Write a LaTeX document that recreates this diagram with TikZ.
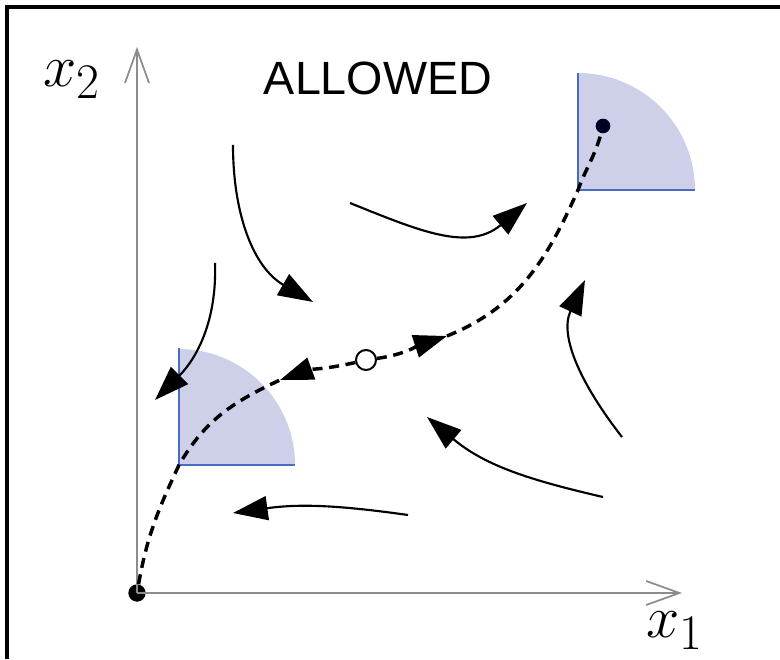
\documentclass[tikz,border=0pt]{standalone}
\usepackage{fontspec}
\newfontfamily\labelsans{Liberation Sans}
\usepackage{tikz}
\usetikzlibrary{arrows.meta}
\definecolor{regionfill}{HTML}{CDD0E8}
\definecolor{regionedge}{HTML}{4A6BC2}
\definecolor{axisgray}{HTML}{8C8C8C}
\tikzset{
  ph/axis/.style={axisgray, line width=1.5pt,
    -{Straight Barb[length=25pt, width=18pt, line width=1.3pt]}},
  ph/flow/.style={black, line width=1.6pt, -{Triangle[length=26pt, width=18pt]}},
  ph/traj/.style={black, line width=2.6pt, dash pattern=on 7.5pt off 5pt},
  ph/trajarr/.style={ph/traj, -{Triangle[length=25pt, width=17pt]}},
  ph/region/.style={fill=regionfill},
  ph/edge/.style={regionedge, line width=1.5pt},
  ph/math/.style={inner sep=0pt, font=\Huge, scale=1.8},
  ph/dot/.style={circle, fill=black, inner sep=0pt, minimum size=#1}
}

\begin{document}
\begin{tikzpicture}[x=0.75pt, y=0.75pt]
  \useasboundingbox (0,0) rectangle (780,659);
  % frame
  \draw[line width=2.4pt] (7,0) -- (7,652) -- (780,652);

  % target regions
  \coordinate (llc) at (179,194);
  \coordinate (urc) at (578,469);
  \fill[ph/region] (llc) -- ++(116,0) arc[start angle=0, end angle=90, radius=116] -- cycle;
  \fill[ph/region] (urc) -- ++(117,0) arc[start angle=0, end angle=90, radius=117] -- cycle;
  \draw[ph/edge] (llc) ++(0,117) -- (llc) -- ++(116,0);
  \draw[ph/edge] (urc) ++(0,117) -- (urc) -- ++(117,0);

  % axes
  \node[ph/dot=13pt] (org) at (137,66) {};
  \coordinate (xend) at (682,66);
  \coordinate (yend) at (137,612);
  \draw[ph/axis] (org.center) -- (xend);
  \draw[ph/axis] (org.center) -- (yend);
  \node[ph/math, anchor=base west] (xone) at (646,21) {$x_1$};
  \node[ph/math, anchor=base west] (xtwo) at (43,572) {$x_2$};
  \node[inner sep=0pt, font=\labelsans\fontsize{35}{40}\selectfont] (allowed) at (378,581) {ALLOWED};

  % equilibria
  \node[ph/dot=11pt, fill=black!85!blue] (goal) at (603,533) {};
  \node[circle, draw=black, fill=white, line width=1.5pt, inner sep=0pt,
    minimum size=15pt] (saddle) at (366,299) {};

  % separatrix
  \coordinate (ltip) at (280,279);
  \coordinate (rtip) at (447,323);
  \draw[ph/traj] (org) to[out=80, in=245] (llc) to[out=60, in=205] (ltip);
  \draw[ph/trajarr] (saddle) to[out=193, in=20] (ltip);
  \draw[ph/trajarr] (saddle) to[out=8, in=198] (rtip);
  \draw[ph/traj] (rtip) to[out=22, in=246] (urc) to[out=70, in=255] (goal);

  % flow
  \coordinate (fa) at (233,514);  \coordinate (fae) at (313,357);
  \coordinate (fb) at (350,456);  \coordinate (fbe) at (527,456);
  \coordinate (fc) at (215,396);  \coordinate (fce) at (155,259);
  \coordinate (fd) at (408,144);  \coordinate (fde) at (233,146);
  \coordinate (ff) at (603,162);  \coordinate (ffe) at (427,242);
  \coordinate (fg) at (622,222);  \coordinate (fge) at (585,379);
  \draw[ph/flow] (fa) to[out=-90, in=150] (fae);
  \draw[ph/flow] (fb) to[out=-22, in=220, looseness=1.1] (fbe);
  \draw[ph/flow] (fc) to[out=-88, in=45] (fce);
  \draw[ph/flow] (fd) to[out=172, in=8] (fde);
  \draw[ph/flow] (ff) to[out=167, in=-40] (ffe);
  \draw[ph/flow] (fg) to[out=128, in=245] (fge);
\end{tikzpicture}
\end{document}
